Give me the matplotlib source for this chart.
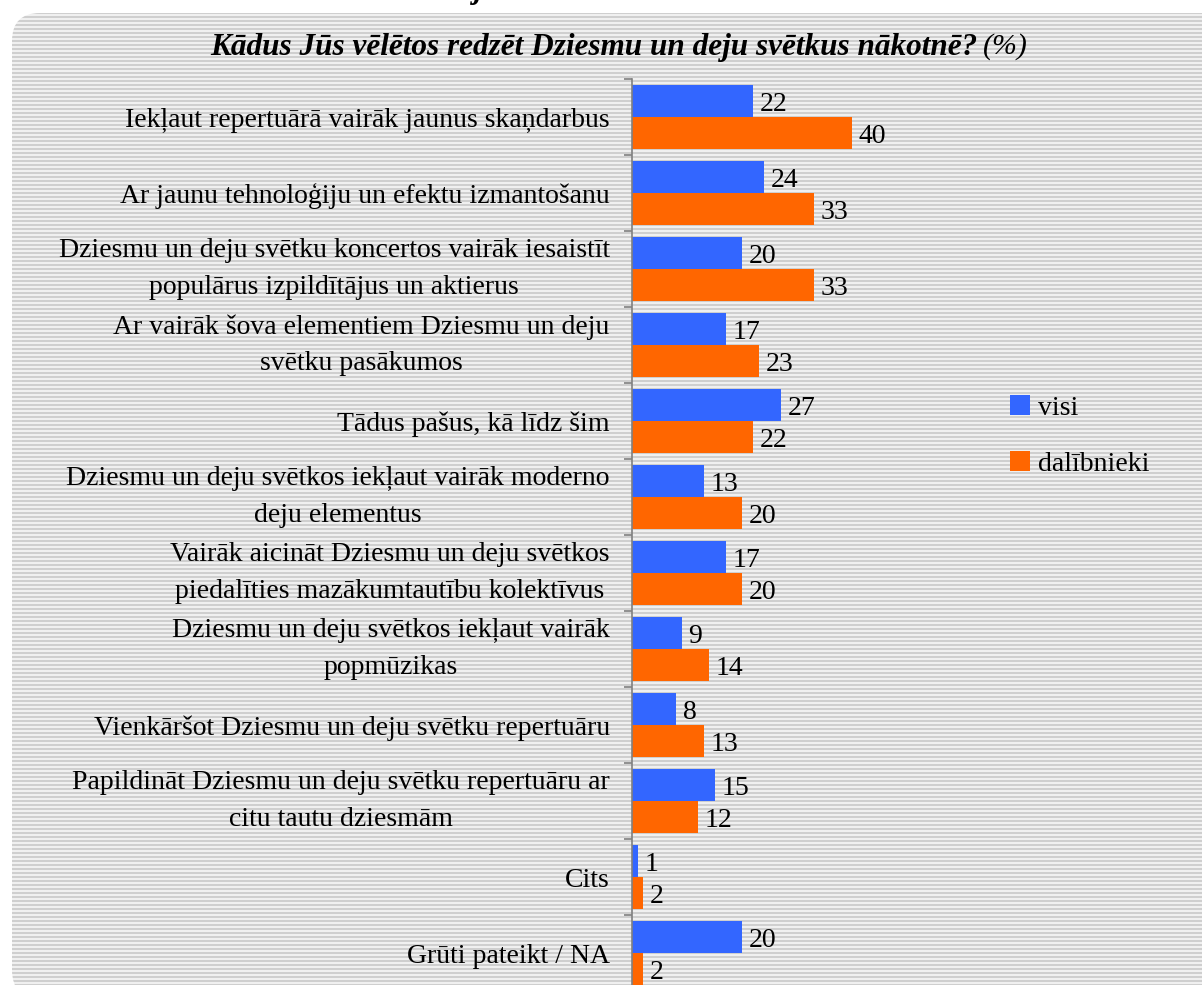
import matplotlib.pyplot as plt
import numpy as np
from matplotlib.patches import FancyBboxPatch

plt.rcParams['font.family'] = ['Liberation Serif', 'DejaVu Serif']

categories = [
    'Iekļaut repertuārā vairāk jaunus skaņdarbus',
    'Ar jaunu tehnoloģiju un efektu izmantošanu',
    'Dziesmu un deju svētku koncertos vairāk iesaistīt\npopulārus izpildītājus un aktierus',
    'Ar vairāk šova elementiem Dziesmu un deju\nsvētku pasākumos',
    'Tādus pašus, kā līdz šim',
    'Dziesmu un deju svētkos iekļaut vairāk moderno\ndeju elementus',
    'Vairāk aicināt Dziesmu un deju svētkos\npiedalīties mazākumtautību kolektīvus',
    'Dziesmu un deju svētkos iekļaut vairāk\npopmūzikas',
    'Vienkāršot Dziesmu un deju svētku repertuāru',
    'Papildināt Dziesmu un deju svētku repertuāru ar\ncitu tautu dziesmām',
    'Cits',
    'Grūti pateikt / NA',
]
visi = [22, 24, 20, 17, 27, 13, 17, 9, 8, 15, 1, 20]
dalibnieki = [40, 33, 33, 23, 22, 20, 20, 14, 13, 12, 2, 2]
series_names = ['visi', 'dalībnieki']
colors = ['#3366FF', '#FF6600']

W, H = 1202, 985
fig = plt.figure(figsize=(W / 100, H / 100), dpi=100)

# striped rounded background
bg = fig.add_axes([0, 0, 1, 1])
bg.set_xlim(0, W)
bg.set_ylim(H, 0)
bg.axis('off')
rows = np.arange(H)
stripe = np.where(rows % 4 < 2, 0.81, 0.94)
img = np.tile(stripe[:, None], (1, W))
im = bg.imshow(img, cmap='gray', vmin=0, vmax=1, extent=(0, W, H, 0),
               aspect='auto', interpolation='nearest')
box = FancyBboxPatch((12, 13), W - 12 + 40, H, boxstyle='round,pad=0,rounding_size=28',
                     transform=bg.transData, facecolor='none', edgecolor='none')
bg.add_patch(box)
im.set_clip_path(box)

# cut-off text above the chart
fig.text(478 / W, 1 + 2 / H, 'j', fontsize=22, fontweight='bold', fontstyle='italic',
         ha='center', va='baseline')

n = len(categories)
band = 76.0
top_px = 79
ax = fig.add_axes([632 / W, 1 - (top_px + n * band) / H, 330 / W, n * band / H])
ax.patch.set_alpha(0)

y = np.arange(n)
h = 0.42
b1 = ax.barh(y - h / 2 - 0.005, visi, height=h, color=colors[0], label=series_names[0])
b2 = ax.barh(y + h / 2 - 0.005, dalibnieki, height=h, color=colors[1], label=series_names[1])
ax.set_ylim(n - 0.5, -0.5)
ax.set_xlim(0, 60)

for bars, vals in ((b1, visi), (b2, dalibnieki)):
    for rect, v in zip(bars, vals):
        ax.annotate(str(v), (rect.get_width(), rect.get_y() + rect.get_height() / 2),
                    xytext=(5, -3), textcoords='offset points', ha='left', va='center',
                    fontsize=20)

ax.set_yticks(y)
ax.set_yticklabels(categories, fontsize=20, multialignment='center', linespacing=1.6)
for lab in ax.get_yticklabels():
    if '\n' in lab.get_text():
        lab.set_va('center')
ax.tick_params(axis='y', which='major', length=0, pad=16)
ax.set_yticks(np.arange(n + 1) - 0.5, minor=True)
ax.tick_params(axis='y', which='minor', length=6, color='#808080', width=1.2)
ax.set_xticks([])
for s in ('top', 'right', 'bottom'):
    ax.spines[s].set_visible(False)
ax.spines['left'].set_color('#808080')
ax.spines['left'].set_linewidth(1.2)

fig.text(977 / W, 1 - 47 / H,
         'Kādus Jūs vēlētos redzēt Dziesmu un deju svētkus nākotnē?',
         fontsize=22.5, fontweight='bold', fontstyle='italic', ha='right', va='center')
fig.text(983 / W, 1 - 47 / H, '(%)', fontsize=21.5, fontstyle='italic', ha='left', va='center')

fig.legend(handles=[b1, b2], labels=series_names, loc='center left',
           bbox_to_anchor=(999 / W, 1 - 436 / H), frameon=False, fontsize=20,
           borderaxespad=0, handlelength=0.72, handleheight=0.72, handletextpad=0.3,
           labelspacing=1.1)

fig.savefig('out.png', dpi=100)
